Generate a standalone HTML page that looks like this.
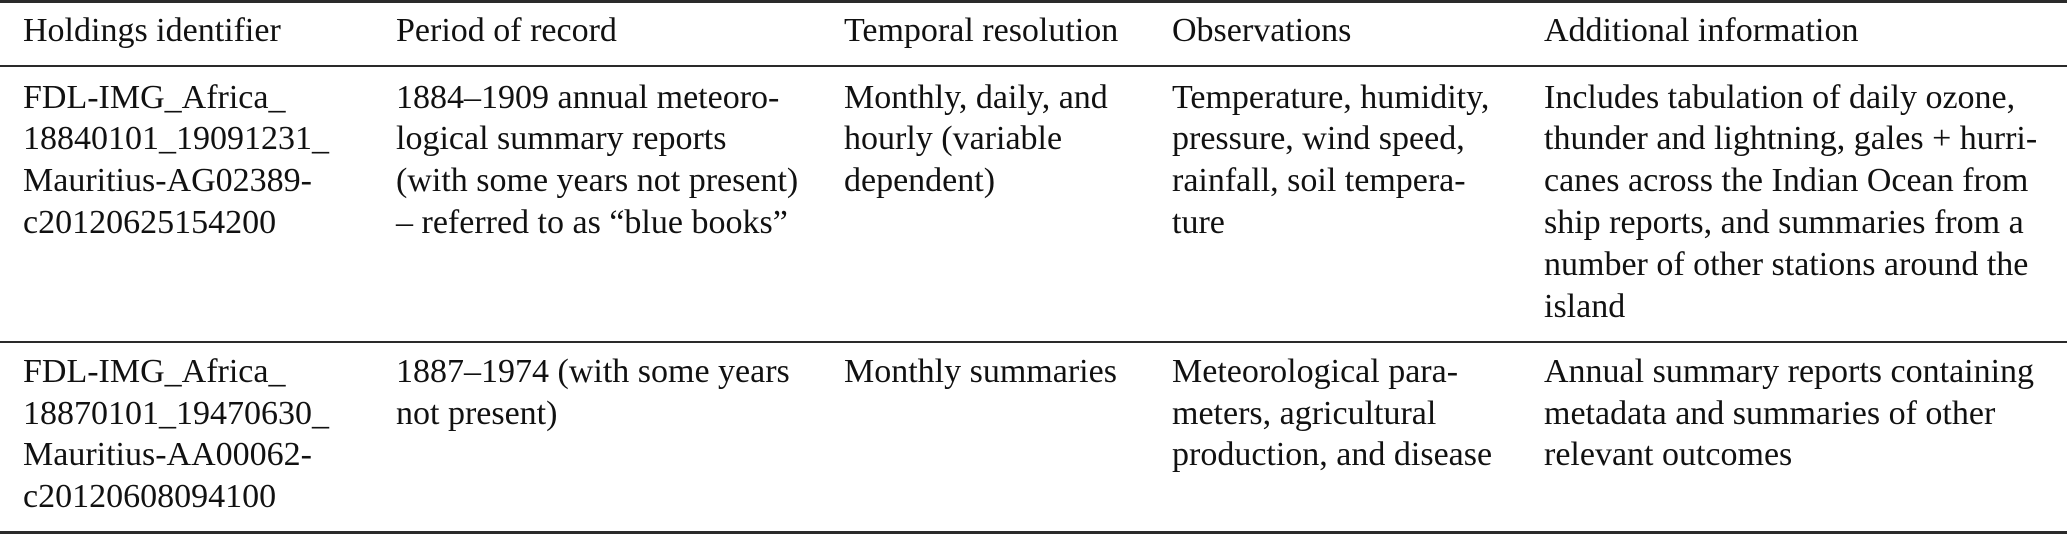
<!DOCTYPE html>
<html>
<head>
<meta charset="utf-8">
<style>
  html, body { margin: 0; padding: 0; background: #fff; }
  body { width: 2067px; height: 535px; position: relative; overflow: hidden;
         font-family: "Liberation Serif", "DejaVu Serif", serif; font-size: 34px; color: #111; }
  .t { position: absolute; white-space: pre; line-height: 42px; height: 42px; }
  .r { position: absolute; left: 0; width: 2067px; background: #2a2a2a; }
</style>
</head>
<body>
<!-- rules -->
<div class="r" style="top:0px;height:3px;"></div>
<div class="r" style="top:65px;height:2px;"></div>
<div class="r" style="top:341px;height:2px;"></div>
<div class="r" style="top:531px;height:3px;"></div>

<!-- header (baseline ~42.7) -->
<div class="t" style="left:23px;top:10px;">Holdings identifier</div>
<div class="t" style="left:396px;top:10px;">Period of record</div>
<div class="t" style="left:844px;top:10px;">Temporal resolution</div>
<div class="t" style="left:1172px;top:10px;">Observations</div>
<div class="t" style="left:1544px;top:10px;">Additional information</div>

<!-- row 1 -->
<div class="t" style="left:23px;top:76.5px;">FDL-IMG_Africa_</div>
<div class="t" style="left:23px;top:118.3px;">18840101_19091231_</div>
<div class="t" style="left:23px;top:160.1px;">Mauritius-AG02389-</div>
<div class="t" style="left:23px;top:201.9px;">c20120625154200</div>

<div class="t" style="left:396px;top:76.5px;">1884–1909 annual meteoro-</div>
<div class="t" style="left:396px;top:118.3px;">logical summary reports</div>
<div class="t" style="left:396px;top:160.1px;">(with some years not present)</div>
<div class="t" style="left:396px;top:201.9px;">– referred to as “blue books”</div>

<div class="t" style="left:844px;top:76.5px;">Monthly, daily, and</div>
<div class="t" style="left:844px;top:118.3px;">hourly (variable</div>
<div class="t" style="left:844px;top:160.1px;">dependent)</div>

<div class="t" style="left:1172px;top:76.5px;">Temperature, humidity,</div>
<div class="t" style="left:1172px;top:118.3px;">pressure, wind speed,</div>
<div class="t" style="left:1172px;top:160.1px;">rainfall, soil tempera-</div>
<div class="t" style="left:1172px;top:201.9px;">ture</div>

<div class="t" style="left:1544px;top:76.5px;">Includes tabulation of daily ozone,</div>
<div class="t" style="left:1544px;top:118.3px;">thunder and lightning, gales + hurri-</div>
<div class="t" style="left:1544px;top:160.1px;">canes across the Indian Ocean from</div>
<div class="t" style="left:1544px;top:201.9px;">ship reports, and summaries from a</div>
<div class="t" style="left:1544px;top:243.7px;">number of other stations around the</div>
<div class="t" style="left:1544px;top:285.5px;">island</div>

<!-- row 2 -->
<div class="t" style="left:23px;top:351px;">FDL-IMG_Africa_</div>
<div class="t" style="left:23px;top:392.5px;">18870101_19470630_</div>
<div class="t" style="left:23px;top:434px;">Mauritius-AA00062-</div>
<div class="t" style="left:23px;top:475.5px;">c20120608094100</div>

<div class="t" style="left:396px;top:351px;">1887–1974 (with some years</div>
<div class="t" style="left:396px;top:392.5px;">not present)</div>

<div class="t" style="left:844px;top:351px;">Monthly summaries</div>

<div class="t" style="left:1172px;top:351px;">Meteorological para-</div>
<div class="t" style="left:1172px;top:392.5px;">meters, agricultural</div>
<div class="t" style="left:1172px;top:434px;">production, and disease</div>

<div class="t" style="left:1544px;top:351px;">Annual summary reports containing</div>
<div class="t" style="left:1544px;top:392.5px;">metadata and summaries of other</div>
<div class="t" style="left:1544px;top:434px;">relevant outcomes</div>
</body>
</html>
